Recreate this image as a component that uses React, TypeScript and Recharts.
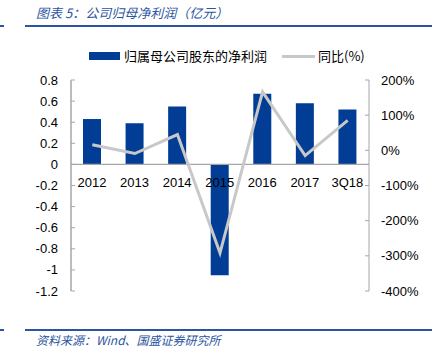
import React from 'react';
import { ComposedChart, Bar, Line, XAxis, YAxis, ReferenceLine, LabelList } from 'recharts';

const categories = ['2012', '2013', '2014', '2015', '2016', '2017', '3Q18'];
const netProfit = [0.43, 0.39, 0.55, -1.05, 0.67, 0.58, 0.52];
const yoyPct = [16, -9, 45, -292, 166, -15, 85];
const leftTicks = [-1.2, -1, -0.8, -0.6, -0.4, -0.2, 0, 0.2, 0.4, 0.6, 0.8];
const rightTicks = [-400, -300, -200, -100, 0, 100, 200];

const W = 439;
const H = 352;
const PLOT_TOP = 80;
const PLOT_BOTTOM = 291;
const PLOT_LEFT = 71;
const PLOT_RIGHT = 369;
const ZERO_Y = PLOT_TOP + (0.8 / 2.0) * (PLOT_BOTTOM - PLOT_TOP);
const BAND = (PLOT_RIGHT - PLOT_LEFT) / categories.length;

const BLUE = '#013D95';
const GRAY = '#C8C8C8';
const AXIS = '#A6A6A6';
const FONT = '"Liberation Sans", "Noto Sans CJK SC", sans-serif';
const CJK = '"Noto Sans CJK SC", sans-serif';

const data = categories.map((c, i) => ({
  name: c,
  profit: netProfit[i],
  yoy: yoyPct[i],
}));

const LeftTick = (props: any) => {
  const { x, y, payload } = props;
  const ax = x + 13;
  return (
    <g>
      <line x1={ax} x2={ax + 4} y1={y} y2={y} stroke={AXIS} />
      <text x={x} y={y + 4.5} textAnchor="end" fontSize={13} fill="#000" fontFamily={FONT}>
        {payload.value}
      </text>
    </g>
  );
};

const RightTick = (props: any) => {
  const { x, y, payload } = props;
  const ax = x - 12;
  return (
    <g>
      <line x1={ax - 4} x2={ax} y1={y} y2={y} stroke={AXIS} />
      <text x={x} y={y + 4.5} textAnchor="start" fontSize={13} fill="#000" fontFamily={FONT}>
        {payload.value + '%'}
      </text>
    </g>
  );
};

// tick marks only; the category text is drawn over the bars by LabelList
const XTick = (props: any) => {
  const { x } = props;
  return <line x1={x + BAND / 2} x2={x + BAND / 2} y1={ZERO_Y} y2={ZERO_Y + 4} stroke={AXIS} />;
};

const CategoryLabel = (props: any) => {
  const { x, width, value } = props;
  return (
    <text x={x + width / 2} y={ZERO_Y + 23} textAnchor="middle" fontSize={13} fill="#000" fontFamily={FONT}>
      {value}
    </text>
  );
};

export default function App() {
  return (
    <div style={{ position: 'absolute', left: 0, top: 0, width: W, height: H, background: '#fff' }}>
      {/* title */}
      <div
        style={{
          position: 'absolute', left: 36, top: 3, fontSize: 13, fontStyle: 'italic',
          color: '#2B55A0', fontFamily: CJK, whiteSpace: 'nowrap',
        }}
      >
        图表 5：公司归母净利润（亿元）
      </div>
      <div style={{ position: 'absolute', left: 0, top: 25, width: 4, height: 2, background: '#2B55A0' }} />
      <div style={{ position: 'absolute', left: 25, top: 25, width: 407, height: 2, background: '#2B55A0' }} />

      {/* legend */}
      <div style={{ position: 'absolute', left: 89, top: 52, width: 31, height: 8, background: BLUE }} />
      <div style={{ position: 'absolute', left: 124, top: 46, fontSize: 13, fontFamily: CJK, whiteSpace: 'nowrap', color: '#000' }}>
        归属母公司股东的净利润
      </div>
      <div style={{ position: 'absolute', left: 282, top: 55, width: 33, height: 3, background: GRAY }} />
      <div style={{ position: 'absolute', left: 318, top: 46, fontSize: 13, fontFamily: CJK, whiteSpace: 'nowrap', color: '#000' }}>
        同比(%)
      </div>

      <ComposedChart
        width={W}
        height={H}
        data={data}
        margin={{ top: PLOT_TOP, bottom: H - PLOT_BOTTOM, left: 0, right: 0 }}
        barCategoryGap={0}
      >
        <XAxis
          dataKey="name"
          axisLine={false}
          tickLine={false}
          tickSize={0}
          tickMargin={0}
          tick={<XTick />}
          height={0}
          interval={0}
        />
        <YAxis
          yAxisId="left"
          orientation="left"
          width={PLOT_LEFT}
          domain={[-1.2, 0.8]}
          ticks={leftTicks}
          tickSize={0}
          tickMargin={13}
          tickLine={false}
          axisLine={{ stroke: AXIS, strokeWidth: 1.5 }}
          tick={<LeftTick />}
          interval={0}
        />
        <YAxis
          yAxisId="right"
          orientation="right"
          width={W - PLOT_RIGHT}
          domain={[-400, 200]}
          ticks={rightTicks}
          tickSize={0}
          tickMargin={12}
          tickLine={false}
          axisLine={{ stroke: AXIS, strokeWidth: 1 }}
          tick={<RightTick />}
          interval={0}
        />
        <ReferenceLine yAxisId="left" y={0} stroke={AXIS} strokeWidth={1.2} />
        <Bar yAxisId="left" dataKey="profit" fill={BLUE} barSize={18} isAnimationActive={false}>
          <LabelList dataKey="name" content={<CategoryLabel />} />
        </Bar>
        <Line
          yAxisId="right"
          dataKey="yoy"
          stroke={GRAY}
          strokeWidth={3}
          dot={false}
          activeDot={false}
          type="linear"
          isAnimationActive={false}
        />
      </ComposedChart>

      {/* footer */}
      <div style={{ position: 'absolute', left: 0, top: 329, width: 4, height: 2, background: '#2B55A0' }} />
      <div style={{ position: 'absolute', left: 25, top: 329, width: 407, height: 2, background: '#2B55A0' }} />
      <div
        style={{
          position: 'absolute', left: 36, top: 331, fontSize: 12, fontStyle: 'italic',
          color: '#2B55A0', fontFamily: CJK, whiteSpace: 'nowrap',
        }}
      >
        资料来源：Wind、国盛证券研究所
      </div>
    </div>
  );
}
